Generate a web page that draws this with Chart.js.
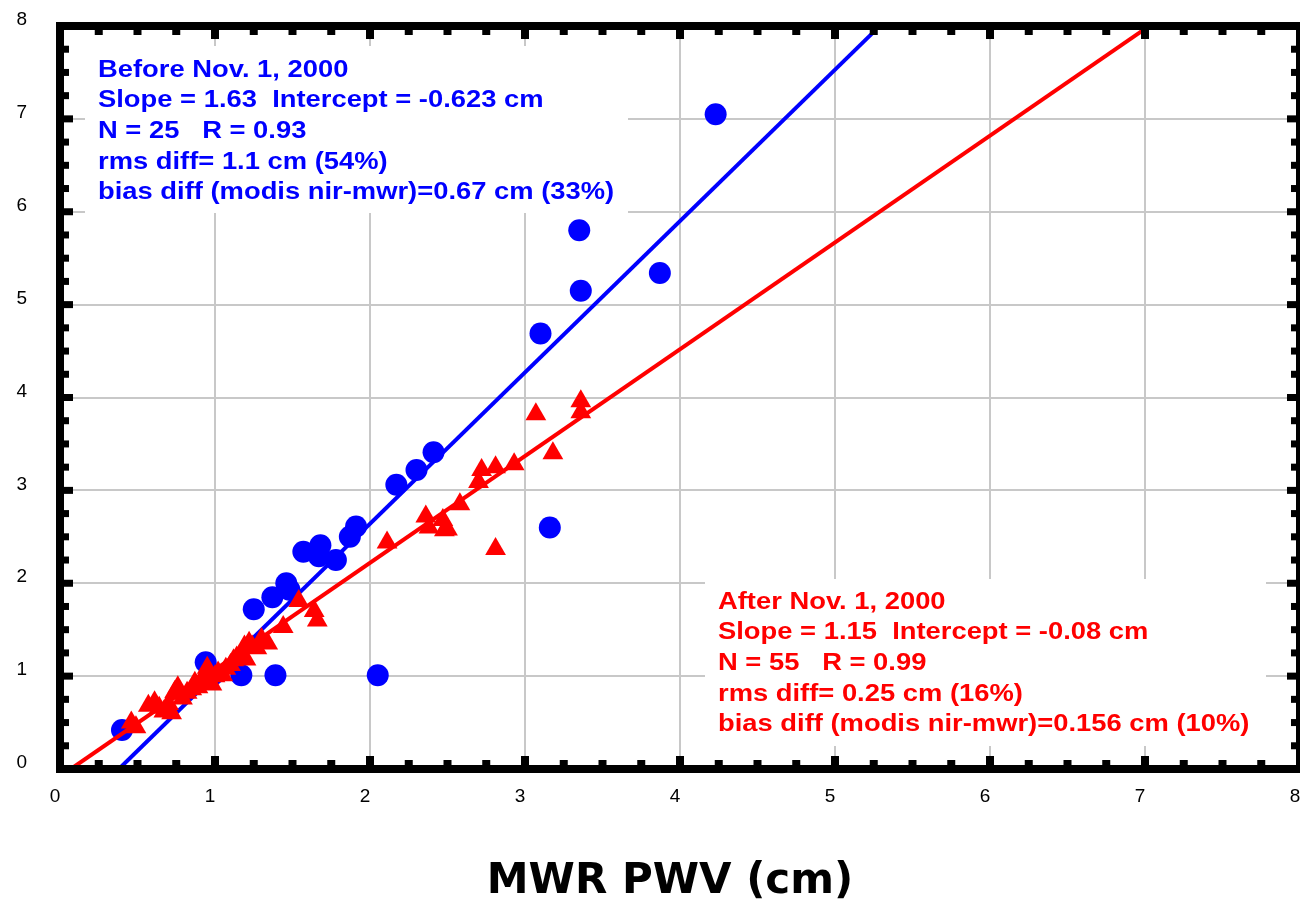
<!DOCTYPE html>
<html lang="en">
<head>
    <meta charset="UTF-8">
    <title>MODIS NIR vs MWR PWV</title>
    <script src="https://cdn.jsdelivr.net/npm/chart.js@4.4.1/dist/chart.umd.min.js"></script>
    <style>
        body { margin: 0; background: #fff; }
    </style>
</head>
<body>
    <canvas id="myChart" width="1300" height="901"></canvas>
    <script>
        // points (MWR PWV on x, MODIS on y, cm)
        const beforeX = [4.23, 3.35, 3.36, 3.87, 3.10, 2.41, 2.30, 2.17, 1.91, 1.87, 1.78, 1.68, 1.67,
            1.57, 1.46, 1.48, 1.37, 1.25, 3.16, 2.05, 1.39, 1.17, 0.94, 0.40, 0.99];
        const beforeY = [7.05, 5.80, 5.15, 5.34, 4.69, 3.41, 3.22, 3.06, 2.61, 2.50, 2.25, 2.41, 2.29,
            2.34, 2.00, 1.93, 1.85, 1.72, 2.60, 1.01, 1.01, 1.01, 1.15, 0.42, 1.02];

        const afterX = [3.07, 3.36, 3.36, 3.18, 2.93, 2.81, 2.72, 2.70, 2.58, 2.36, 2.38, 2.47, 2.48, 2.50,
            2.81, 2.11, 1.54, 1.64, 1.66, 1.44, 1.34, 1.24, 1.19,
            0.46, 0.49, 0.57, 0.61, 0.64, 0.67, 0.70, 0.72, 0.74, 0.76, 0.79, 0.82, 0.85, 0.87, 0.89, 0.92,
            0.94, 0.95, 0.96, 0.98, 1.00, 1.02, 1.05, 1.07, 1.10, 1.12, 1.14, 1.17, 1.20, 1.22, 1.27, 1.30];
        const afterY = [3.82, 3.96, 3.84, 3.40, 3.28, 3.25, 3.22, 3.09, 2.85, 2.72, 2.60, 2.68, 2.57, 2.58,
            2.37, 2.44, 1.81, 1.70, 1.60, 1.53, 1.35, 1.32, 1.32,
            0.50, 0.45, 0.68, 0.72, 0.66, 0.62, 0.70, 0.60, 0.83, 0.88, 0.76, 0.82, 0.86, 0.93, 0.88, 0.95,
            1.04, 1.09, 0.96, 0.91, 1.00, 1.04, 1.01, 1.08, 1.12, 1.17, 1.20, 1.24, 1.18, 1.36, 1.30, 1.40];

        // end points of the two fit lines
        const beforeFitX = [0.38, 5.24];
        const beforeFitY = [0.0, 7.92];
        const afterFitX = [0.07, 7.0];
        const afterFitY = [0.0, 7.97];

        const beforeNotes = ['Before Nov. 1, 2000', 'Slope = 1.63  Intercept = -0.623 cm', 'N = 25   R = 0.93',
            'rms diff= 1.1 cm (54%)', 'bias diff (modis nir-mwr)=0.67 cm (33%)'];
        const afterNotes = ['After Nov. 1, 2000', 'Slope = 1.15  Intercept = -0.08 cm', 'N = 55   R = 0.99',
            'rms diff= 0.25 cm (16%)', 'bias diff (modis nir-mwr)=0.156 cm (10%)'];

        const xTitle = 'MWR PWV (cm)';

        function toPoints(xs, ys) {
            return xs.map((x, i) => ({ x: x, y: ys[i] }));
        }

        // white note boxes with the fit stats, plus the x axis title
        const notesPlugin = {
            id: 'notes',
            beforeDatasetsDraw(chart) {
                const ctx = chart.ctx;
                ctx.save();
                ctx.fillStyle = '#fff';
                ctx.fillRect(85, 46, 543, 167);
                ctx.fillRect(705, 579, 561, 167);
                ctx.font = 'bold 24px "Liberation Sans", Arial, sans-serif';
                ctx.textBaseline = 'alphabetic';
                const draw = (lines, color, x0, y0) => {
                    ctx.fillStyle = color;
                    lines.forEach((t, i) => {
                        ctx.save();
                        ctx.translate(x0, y0 + i * 30.7);
                        ctx.scale(1.14, 1);
                        ctx.fillText(t, 0, 0);
                        ctx.restore();
                    });
                };
                draw(beforeNotes, '#0000ff', 98, 76.5);
                draw(afterNotes, '#ff0000', 718, 608.5);

                ctx.fillStyle = '#000';
                ctx.font = 'bold 42px "DejaVu Sans", Verdana, sans-serif';
                ctx.textAlign = 'center';
                ctx.fillText(xTitle, 670, 893);
                ctx.restore();
            }
        };

        // thick black frame with square tick marks inside
        const framePlugin = {
            id: 'frame',
            afterDraw(chart) {
                const ctx = chart.ctx;
                const a = chart.chartArea;
                const xs = chart.scales.x, ys = chart.scales.y;
                ctx.save();
                ctx.strokeStyle = '#000';
                ctx.fillStyle = '#000';
                ctx.lineWidth = 8;
                ctx.strokeRect(a.left, a.top, a.right - a.left, a.bottom - a.top);
                for (let v = 0; v <= 8; v += 0.25) {
                    const len = Number.isInteger(v) ? 9 : 5;
                    const px = xs.getPixelForValue(v);
                    const py = ys.getPixelForValue(v);
                    ctx.fillRect(px - 4, a.bottom - 4 - len, 8, len);
                    ctx.fillRect(px - 4, a.top + 4, 8, len);
                    ctx.fillRect(a.left + 4, py - 3.5, len, 7);
                    ctx.fillRect(a.right - 4 - len, py - 3.5, len, 7);
                }
                ctx.restore();
            }
        };

        const ctx = document.getElementById('myChart');
        new Chart(ctx, {
            type: 'scatter',
            data: {
                datasets: [{
                    label: 'before fit',
                    type: 'line',
                    data: toPoints(beforeFitX, beforeFitY),
                    borderColor: '#0000ff',
                    borderWidth: 4,
                    pointRadius: 0,
                    fill: false,
                    order: 3
                }, {
                    label: 'after fit',
                    type: 'line',
                    data: toPoints(afterFitX, afterFitY),
                    borderColor: '#ff0000',
                    borderWidth: 4,
                    pointRadius: 0,
                    fill: false,
                    order: 2
                }, {
                    label: 'before',
                    data: toPoints(beforeX, beforeY),
                    pointStyle: 'circle',
                    pointRadius: 11,
                    backgroundColor: '#0000ff',
                    borderColor: '#0000ff',
                    borderWidth: 0,
                    order: 4
                }, {
                    label: 'after',
                    data: toPoints(afterX, afterY),
                    pointStyle: 'triangle',
                    pointRadius: 12,
                    backgroundColor: '#ff0000',
                    borderColor: '#ff0000',
                    borderWidth: 0,
                    order: 1
                }]
            },
            options: {
                responsive: false,
                animation: false,
                layout: { autoPadding: false, padding: { top: 26, right: 0, left: 0, bottom: 0 } },
                plugins: {
                    legend: { display: false },
                    tooltip: { enabled: false }
                },
                scales: {
                    x: {
                        type: 'linear',
                        min: 0,
                        max: 8,
                        afterFit(scale) {
                            scale.height = 132;
                            scale.paddingLeft = 0;
                            scale.paddingRight = 0;
                        },
                        border: { display: false },
                        grid: { color: '#c8c8c8', lineWidth: 2, drawTicks: false },
                        ticks: {
                            stepSize: 1,
                            padding: 0,
                            labelOffset: -5,
                            maxRotation: 0,
                            color: '#000',
                            font: { family: '"Liberation Sans", Arial, sans-serif', size: 19, lineHeight: '56px' }
                        }
                    },
                    y: {
                        type: 'linear',
                        min: 0,
                        max: 8,
                        afterFit(scale) {
                            scale.width = 60;
                            scale.paddingTop = 0;
                            scale.paddingBottom = 0;
                        },
                        border: { display: false },
                        grid: { color: '#c8c8c8', lineWidth: 2, drawTicks: false },
                        ticks: {
                            stepSize: 1,
                            padding: 33,
                            labelOffset: -6,
                            color: '#000',
                            font: { family: '"Liberation Sans", Arial, sans-serif', size: 19 }
                        }
                    }
                }
            },
            plugins: [notesPlugin, framePlugin]
        });
    </script>
</body>
</html>
